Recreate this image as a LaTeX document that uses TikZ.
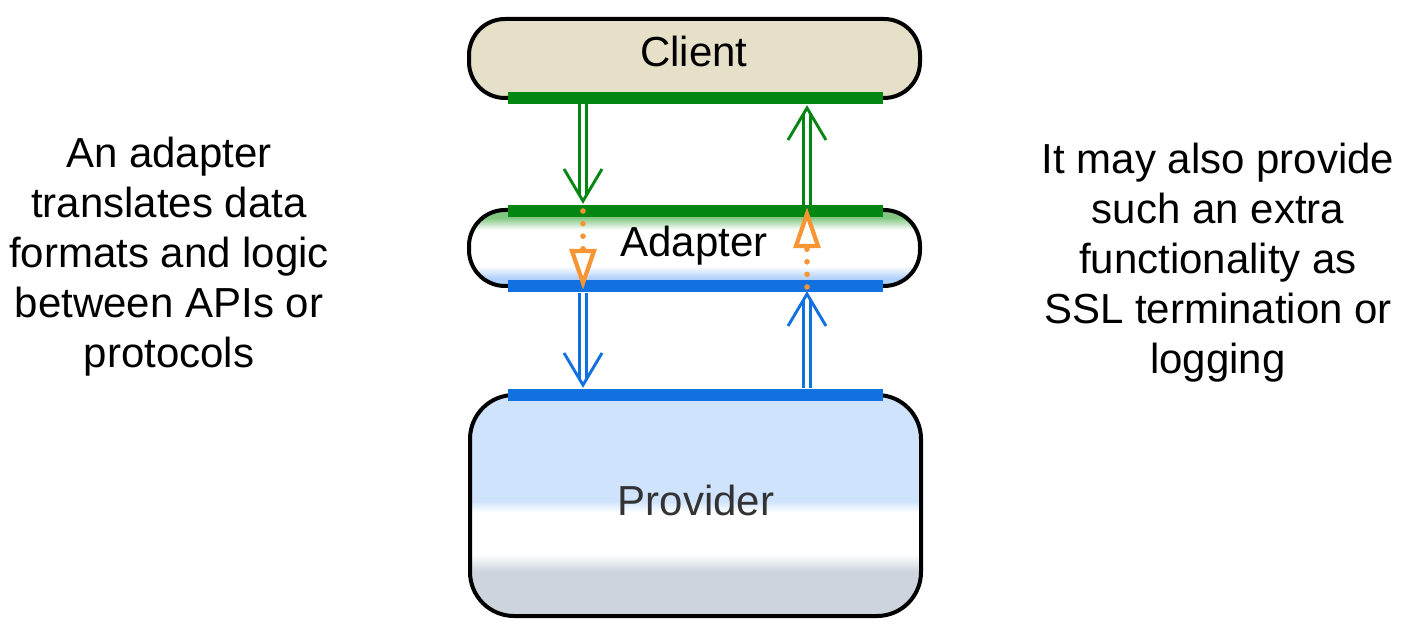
\documentclass[tikz,border=0pt]{standalone}
\usepackage{fontspec}
\setmainfont{Liberation Sans}
\usetikzlibrary{calc}
\definecolor{cbeige}{HTML}{E6E0C8}
\definecolor{cgreen}{HTML}{048712}
\definecolor{cblue}{HTML}{1271E0}
\definecolor{corange}{HTML}{F79433}
\definecolor{pblue}{HTML}{CFE3FC}
\definecolor{pgray}{HTML}{CDD4DD}
\definecolor{agreen}{RGB}{130,200,130}
\definecolor{ablue}{RGB}{175,208,250}
\definecolor{ptext}{HTML}{333333}
\pgfdeclareverticalshading{adaptersh}{100bp}{color(0bp)=(ablue); color(30bp)=(ablue); color(38bp)=(white); color(62bp)=(white); color(70bp)=(agreen); color(100bp)=(agreen)}
\pgfdeclareverticalshading{providersh}{100bp}{color(0bp)=(pgray); color(35bp)=(pgray); color(39bp)=(white); color(48.5bp)=(white); color(51bp)=(pblue); color(100bp)=(pblue)}
\begin{document}
\begin{tikzpicture}[x=0.5pt,y=-0.5pt,
  box/.style={draw=black, line width=2pt, inner sep=0pt, minimum width=225.5pt, minimum height=39.5pt, rounded corners=18pt},
  lbl/.style={font=\fontsize{21pt}{25pt}\selectfont, inner sep=0pt, anchor=base},
  side/.style={font=\fontsize{21pt}{25pt}\selectfont, align=center, inner sep=0pt},
  bar/.style={inner sep=0pt, minimum width=187.5pt, minimum height=6.2pt, draw=none},
  gshaft/.style={draw=cgreen, line width=1.4pt, double=white, double distance=2pt},
  gtip/.style={draw=cgreen, line width=1.45pt},
  bshaft/.style={draw=cblue, line width=1.4pt, double=white, double distance=2pt},
  btip/.style={draw=cblue, line width=1.45pt},
  odots/.style={draw=corange, line width=2.8pt, line cap=round, dash pattern=on 0pt off 6.3pt},
  otip/.style={draw=corange, fill=white, line width=2.1pt}
]
\useasboundingbox (0,0) rectangle (1412,630);

% boxes
\node[box, fill=cbeige] (client) at (694.5,58.5) {};
\node[box, shade, shading=adaptersh, minimum height=38pt] (adapter) at (694.5,248) {};
\node[box, shade, shading=providersh, minimum height=110.5pt, rounded corners=22pt] (provider) at (695.5,505.5) {};

% labels
\node[lbl] (clientlbl) at (694,67) {Client};
\node[lbl] (adapterlbl) at (694,257) {Adapter};
\node[lbl, text=ptext] (providerlbl) at (696,515) {Provider};

% bars
\node[bar, fill=cgreen] (cbar) at (695.5,98) {};
\node[bar, fill=cgreen] (atbar) at (695.5,211) {};
\node[bar, fill=cblue] (abbar) at (695.5,286) {};
\node[bar, fill=cblue] (pbar) at (695.5,395) {};

% connector end points
\coordinate (gdS) at (583,104);  \coordinate (gdE) at (583,201);
\coordinate (guS) at (807,205);  \coordinate (guE) at (807,108);
\coordinate (odS) at (583,211);  \coordinate (odE) at (583,283);
\coordinate (ouS) at (807,287);  \coordinate (ouE) at (807,214);
\coordinate (bdS) at (583,292);  \coordinate (bdE) at (583,385);
\coordinate (buS) at (807,389);  \coordinate (buE) at (807,294);

% green arrows
\draw[gshaft] (gdS) -- ($(gdE)+(0,-6)$);
\draw[gtip] ($(gdE)+(-19,-32)$) -- (gdE) -- ($(gdE)+(19,-32)$);
\draw[gshaft] (guS) -- ($(guE)+(0,6)$);
\draw[gtip] ($(guE)+(-19,32)$) -- (guE) -- ($(guE)+(19,32)$);

% blue arrows
\draw[bshaft] (abbar.south -| bdS) -- ($(bdE)+(0,-6)$);
\draw[btip] ($(bdE)+(-19,-32)$) -- (bdE) -- ($(bdE)+(19,-32)$);
\draw[bshaft] (pbar.north -| buS) -- ($(buE)+(0,6)$);
\draw[btip] ($(buE)+(-19,32)$) -- (buE) -- ($(buE)+(19,32)$);

% orange dotted arrows
\draw[odots] (odS) -- ($(odE)+(0,-32)$);
\draw[otip] (odE) -- ($(odE)+(-11,-32)$) -- ($(odE)+(11,-32)$) -- cycle;
\draw[odots] (ouS) -- ($(ouE)+(0,32)$);
\draw[otip] (ouE) -- ($(ouE)+(-11,32)$) -- ($(ouE)+(11,32)$) -- cycle;

% side texts
\node[side] (lefttext) at (169,256.5) {An adapter\\translates data\\formats and logic\\between APIs or\\protocols};
\node[side] (righttext) at (1218,263) {It may also provide\\such an extra\\functionality as\\SSL termination or\\logging};
\end{tikzpicture}
\end{document}
